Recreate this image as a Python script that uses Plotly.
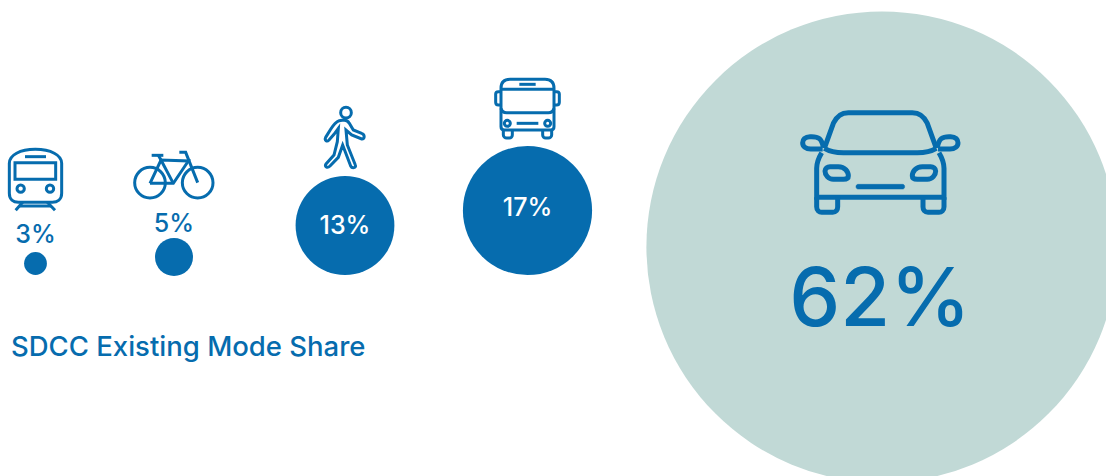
import re
import plotly.graph_objects as go

# ---- data ----
modes = ["Rail", "Cycling", "Walking", "Bus", "Car"]
share = [3, 5, 13, 17, 62]
title_text = "SDCC Existing Mode Share"

# ---- layout and style ----
W, H = 1106, 476
BLUE = "#066CAE"
TEAL = "#C1D9D6"
PX_PER_POINT = 7.6
centre_x = [35.5, 174, 345, 527.5, 882]
centre_y = [263.5, 257, 225.5, 210.5, 247]
label_x = [35.5, 174, 345, 527.5, 880]
label_y = [237, 226, 228, 210, 306]
label_size = [25, 25, 25, 25, 81]
label_colour = [BLUE, BLUE, "white", "white", BLUE]
circle_colour = [BLUE, BLUE, BLUE, BLUE, TEAL]
FONT = "Inter, 'Open Sans', sans-serif"
S_THIN = 3.0
S_CAR = 5.0


def tf(d, ox, oy, k=3.0, mirror=None):
    """Map an icon path from its own drawing units into axis units."""
    def rep(m):
        x, y = float(m.group(1)), float(m.group(2))
        if mirror is not None:
            x = mirror - x
        return f"{ox + x / k:.2f},{oy + y / k:.2f}"
    return re.sub(r"(-?[\d.]+),(-?[\d.]+)", rep, d)


def circ(cx, cy, r):
    c = 0.5523 * r
    return (f"M{cx - r},{cy} C{cx - r},{cy - c} {cx - c},{cy - r} {cx},{cy - r} "
            f"C{cx + c},{cy - r} {cx + r},{cy - c} {cx + r},{cy} "
            f"C{cx + r},{cy + c} {cx + c},{cy + r} {cx},{cy + r} "
            f"C{cx - c},{cy + r} {cx - r},{cy + c} {cx - r},{cy} Z")


shapes = []


def add(d, ox, oy, w, mirror=None, fill=None):
    s = dict(type="path", xref="x", yref="y", path=tf(d, ox, oy, mirror=mirror),
             line=dict(color=BLUE, width=w), layer="above")
    if fill:
        s["fillcolor"] = fill
    shapes.append(s)


# car
cx0, cy0 = 780, 90
m = 602
add("M133,175 L160,100 C170,78 185,68 205,68 L397,68 C417,68 432,78 442,100 L469,175", cx0, cy0, S_CAR)
add("M133,175 C150,185 165,188 190,188 L412,188 C437,188 452,185 469,175", cx0, cy0, S_CAR)
add("M125,188 C115,205 110,215 110,235 L110,322 L492,322 L492,235 C492,215 487,205 477,188", cx0, cy0, S_CAR)
add("M234,283 L368,283 C376,283 376,297 368,297 L234,297 C226,297 226,283 234,283 Z", cx0, cy0, 0.5, fill=BLUE)
for mir in (None, m):
    add("M130,172 C125,145 115,140 95,140 L90,140 C75,140 68,150 68,158 C68,170 78,177 92,177 L128,177",
        cx0, cy0, S_CAR, mirror=mir)
    add("M150,230 L175,230 C195,230 205,245 205,258 C205,265 200,268 190,268 L160,268 "
        "C145,268 135,255 135,243 C135,235 142,230 150,230 Z", cx0, cy0, S_CAR, mirror=mir)
    add("M110,322 L110,350 C110,362 118,367 125,367 L158,367 C168,367 173,360 173,350 L173,322",
        cx0, cy0, S_CAR, mirror=mir)

# bus
bx0, by0 = 480, 70
mb = 285
add("M63,55 C63,35 75,28 90,28 L195,28 C210,28 222,35 222,55 L222,170 C222,177 218,180 212,180 "
    "L73,180 C67,180 63,177 63,170 Z", bx0, by0, S_THIN)
add("M63,58 L222,58", bx0, by0, S_THIN)
add("M63,115 C65,125 70,128 80,128 L205,128 C215,128 220,125 222,115", bx0, by0, S_THIN)
add("M118,43 L167,43", bx0, by0, S_THIN)
add("M110,160 L175,160", bx0, by0, S_THIN)
for mir in (None, mb):
    add("M63,65 L55,65 C50,65 47,68 47,72 L47,97 C47,102 50,105 55,105 L63,105", bx0, by0, S_THIN, mirror=mir)
    add("M70,180 L70,195 C70,200 75,204 80,204 L88,204 C93,204 97,200 97,195 L97,180", bx0, by0, S_THIN, mirror=mir)
    add(circ(82, 160, 9), bx0, by0, S_THIN, mirror=mir)

# walker
wx0, wy0 = 310, 100
add(circ(108, 38, 16), wx0, wy0, S_THIN)
add("M100,60 L88,62 C78,66 70,75 62,88 L47,112 C43,120 50,127 57,120 L72,103 L85,85 L82,125 L72,165 "
    "L48,192 C42,200 52,206 60,198 L85,172 L98,135 L122,198 C126,206 140,204 136,195 L112,135 L108,90 "
    "L125,105 L155,117 C165,118 165,103 155,100 L130,90 L118,70 C114,62 108,60 100,60 Z", wx0, wy0, S_THIN)

# bicycle
cy_x0, cy_y0 = 125, 145
add(circ(75, 113, 46), cy_x0, cy_y0, S_THIN)
add(circ(218, 113, 46), cy_x0, cy_y0, S_THIN)
add("M75,115 L145,115 L190,48 L108,45 L75,115", cy_x0, cy_y0, S_THIN)
add("M100,31 L108,45 L145,115", cy_x0, cy_y0, S_THIN)
add("M80,31 L115,31", cy_x0, cy_y0, S_THIN)
add("M163,22 L182,22 L218,113", cy_x0, cy_y0, S_THIN)

# train
tx0, ty0 = 0, 140
add("M28,70 C28,45 60,28 106,28 C152,28 185,45 185,70 L185,160 C185,178 172,187 157,187 L55,187 "
    "C40,187 28,178 28,160 Z", tx0, ty0, S_THIN)
add("M45,68 L167,68 L167,118 L45,118 Z", tx0, ty0, S_THIN)
add("M75,50 L138,50", tx0, ty0, S_THIN)
add(circ(62, 146, 11), tx0, ty0, S_THIN)
add(circ(150, 146, 11), tx0, ty0, S_THIN)
add("M68,187 L47,211", tx0, ty0, S_THIN)
add("M142,187 L165,211", tx0, ty0, S_THIN)
add("M58,198 L153,198", tx0, ty0, S_THIN)

fig = go.Figure()
fig.add_trace(go.Scatter(
    x=centre_x, y=centre_y, mode="markers", name="Mode share",
    customdata=modes,
    marker=dict(size=[v * PX_PER_POINT for v in share], sizemode="diameter",
                color=circle_colour, line=dict(width=0), opacity=1),
    cliponaxis=False, hovertemplate="%{customdata}: %{text}<extra></extra>",
    text=[f"{v}%" for v in share],
))
fig.add_trace(go.Scatter(
    x=label_x, y=label_y, mode="text", text=[f"{v}%" for v in share],
    textposition="middle center",
    textfont=dict(family=FONT, size=label_size, color=label_colour, weight=500),
    hoverinfo="skip",
))
fig.update_layout(
    width=W, height=H, margin=dict(l=0, r=0, t=0, b=0),
    paper_bgcolor="white", plot_bgcolor="white", showlegend=False,
    xaxis=dict(range=[0, W], visible=False, fixedrange=True),
    yaxis=dict(range=[H, 0], visible=False, fixedrange=True),
    shapes=shapes,
    annotations=[dict(text=title_text, x=9, y=346, xref="x", yref="y", xanchor="left",
                      yanchor="middle", showarrow=False,
                      font=dict(family=FONT, size=27.5, color=BLUE, weight=500))],
)
fig.write_html("out.html", config={"displayModeBar": False},
               post_script="document.body.style.margin='0';document.body.style.overflow='hidden';")
